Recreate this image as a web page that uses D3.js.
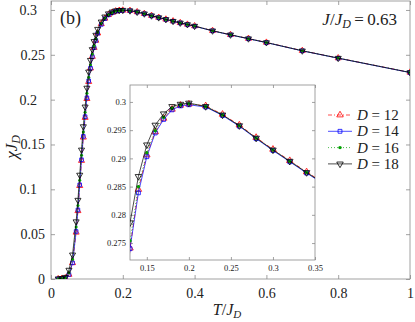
<!DOCTYPE html>
<html>
<head>
<meta charset="utf-8">
<script src="https://cdn.jsdelivr.net/npm/d3@7"></script>
<style>
  body { margin: 0; background: #fff; }
  svg { display: block; font-family: "Liberation Serif", "Times New Roman", serif; }
</style>
</head>
<body>
<svg id="chart" width="415" height="322"></svg>
<script>
// temperatures T/J_D
const temps = [0.02, 0.03, 0.04, 0.05, 0.06, 0.07, 0.075, 0.08, 0.085, 0.09, 0.095, 0.10, 0.105, 0.11, 0.115, 0.12, 0.125,
  0.13, 0.14, 0.15, 0.16, 0.17, 0.18, 0.19, 0.20, 0.22, 0.24, 0.26, 0.28, 0.30, 0.32, 0.34, 0.36, 0.38, 0.40,
  0.45, 0.50, 0.55, 0.60, 0.70, 0.80, 1.00];

// chi*J_D for each bond dimension D
const chiD12 = [0.0001, 0.0004, 0.001, 0.005, 0.018, 0.052, 0.076, 0.104, 0.132, 0.158, 0.180, 0.201, 0.220, 0.235, 0.248, 0.258, 0.266,
  0.2741, 0.2845, 0.2906, 0.2947, 0.2971, 0.2987, 0.2994, 0.2996, 0.2993, 0.2978, 0.2959, 0.2937, 0.2916, 0.2896, 0.2876, 0.2857, 0.2839, 0.2821,
  0.2769, 0.2724, 0.2681, 0.2638, 0.2546, 0.2464, 0.2304];
const chiD14 = [0.0001, 0.0004, 0.001, 0.005, 0.018, 0.053, 0.077, 0.105, 0.133, 0.159, 0.181, 0.202, 0.221, 0.235, 0.248, 0.258, 0.266,
  0.2740, 0.2839, 0.2903, 0.2945, 0.2969, 0.2986, 0.2993, 0.2995, 0.2991, 0.2976, 0.2957, 0.2935, 0.2914, 0.2894, 0.2874, 0.2855, 0.2837, 0.2819,
  0.2767, 0.2722, 0.2679, 0.2636, 0.2544, 0.2462, 0.2302];
const chiD16 = [0.0002, 0.0006, 0.0015, 0.007, 0.022, 0.058, 0.082, 0.110, 0.138, 0.164, 0.186, 0.207, 0.225, 0.239, 0.251, 0.2605, 0.268,
  0.2754, 0.2850, 0.2910, 0.2949, 0.2973, 0.2989, 0.2995, 0.2997, 0.2992, 0.2977, 0.2958, 0.2936, 0.2915, 0.2895, 0.2875, 0.2856, 0.2838, 0.2820,
  0.2768, 0.2723, 0.2680, 0.2637, 0.2545, 0.2463, 0.2303];
const chiD18 = [0.0003, 0.0008, 0.002, 0.010, 0.027, 0.064, 0.088, 0.116, 0.144, 0.170, 0.192, 0.213, 0.231, 0.244, 0.256, 0.265, 0.272,
  0.2786, 0.2868, 0.2924, 0.2959, 0.2979, 0.2992, 0.2996, 0.2998, 0.2992, 0.2977, 0.2958, 0.2936, 0.2915, 0.2895, 0.2875, 0.2856, 0.2838, 0.2820,
  0.2768, 0.2723, 0.2680, 0.2637, 0.2545, 0.2463, 0.2303];

const bondDims = [12, 14, 16, 18];
const mainXTicks = [0, 0.2, 0.4, 0.6, 0.8, 1];
const mainYTicks = [0, 0.05, 0.1, 0.15, 0.2, 0.25, 0.3];
const insetXTicks = [0.15, 0.2, 0.25, 0.3, 0.35];
const insetYTicks = [0.275, 0.28, 0.285, 0.29, 0.295, 0.3];

const allChi = [chiD12, chiD14, chiD16, chiD18];
const styles = [
  { color: '#ff0000', dash: '4,2,1,2', sym: 'triUp', fill: 'none' },
  { color: '#0000ff', dash: null, sym: 'square', fill: 'none' },
  { color: '#00a000', dash: '1,2', sym: 'dot', fill: '#00a000' },
  { color: '#000000', dash: null, sym: 'triDown', fill: 'none' }
];

const serif = '"Liberation Serif", "Times New Roman", serif';
const frameColor = '#8a8a8a';
const textColor = '#222';
const fmt = d => String(+d.toFixed(3));

const svg = d3.select('#chart');

const defs = svg.append('defs');
defs.append('clipPath').attr('id', 'clipMain')
  .append('rect').attr('x', 51).attr('y', 1).attr('width', 359).attr('height', 278);
defs.append('clipPath').attr('id', 'clipInset')
  .append('rect').attr('x', 130).attr('y', 85).attr('width', 185).attr('height', 175);

function marker(g, type, size) {
  if (type === 'triUp') return g.append('path').attr('d', d3.symbol().type(d3.symbolTriangle).size(size * 16)());
  if (type === 'triDown') return g.append('path').attr('d', d3.symbol().type(d3.symbolTriangle).size(size * 16)()).attr('transform', 'rotate(180)');
  if (type === 'square') return g.append('path').attr('d', d3.symbol().type(d3.symbolSquare).size(size * 13)());
  return g.append('circle').attr('r', size * 1.5);
}

function drawSeries(g, x, y, msize) {
  allChi.forEach((chi, i) => {
    const st = styles[i];
    const pts = temps.map((t, j) => [t, chi[j]]);
    const line = d3.line().x(d => x(d[0])).y(d => y(d[1]));
    g.append('path')
      .attr('d', line(pts))
      .attr('fill', 'none')
      .attr('stroke', st.color)
      .attr('stroke-width', 0.7)
      .attr('stroke-dasharray', st.dash);
    const mg = g.append('g');
    pts.forEach(p => {
      const m = mg.append('g').attr('transform', `translate(${x(p[0])},${y(p[1])})`);
      marker(m, st.sym, msize)
        .attr('fill', st.fill)
        .attr('stroke', st.color)
        .attr('stroke-width', st.sym === 'dot' ? 0 : 0.8);
    });
  });
}

function styleAxis(g, size) {
  g.attr('font-family', serif);
  g.select('.domain').remove();
  g.selectAll('.tick line').attr('stroke', frameColor).attr('stroke-width', 0.8);
  g.selectAll('.tick text').attr('fill', textColor).style('font-size', size + 'px');
}

// ---- main plot
const x = d3.scaleLinear().domain([0, 1]).range([51, 410]);
const y = d3.scaleLinear().domain([0, 0.31]).range([279, 1]);

svg.append('rect').attr('x', 51).attr('y', 1).attr('width', 359).attr('height', 278).attr('fill', '#fff');

const gx = svg.append('g').attr('transform', `translate(0,${y(0)})`)
  .call(d3.axisBottom(x).tickValues(mainXTicks).tickSizeInner(-4).tickSizeOuter(0).tickPadding(9).tickFormat(fmt));
styleAxis(gx, 14);
const gxTop = svg.append('g').attr('transform', 'translate(0,1)')
  .call(d3.axisTop(x).tickValues(mainXTicks).tickSizeInner(-4).tickSizeOuter(0).tickFormat(''));
styleAxis(gxTop, 14);

const gy = svg.append('g').attr('transform', `translate(${x(0)},0)`)
  .call(d3.axisLeft(y).tickValues(mainYTicks).tickSizeInner(-4).tickSizeOuter(0).tickPadding(6).tickFormat(fmt));
styleAxis(gy, 14);
gy.selectAll('.tick text').attr('dx', d => fmt(d).length === 3 ? -8 : 0);
const gyRight = svg.append('g').attr('transform', `translate(${x(1)},0)`)
  .call(d3.axisRight(y).tickValues(mainYTicks).tickSizeInner(-4).tickSizeOuter(0).tickFormat(''));
styleAxis(gyRight, 14);

svg.append('rect').attr('x', 51).attr('y', 1).attr('width', 359).attr('height', 278)
  .attr('fill', 'none').attr('stroke', frameColor).attr('stroke-width', 0.8);

drawSeries(svg.append('g').attr('clip-path', 'url(#clipMain)'), x, y, 1);

// labels
svg.append('text').attr('x', 60).attr('y', 24).attr('fill', textColor).style('font-size', '18px').text('(b)');

const jt = svg.append('text').attr('x', 397).attr('y', 25).attr('text-anchor', 'end')
  .attr('fill', textColor).style('font-size', '17px');
jt.append('tspan').attr('font-style', 'italic').text('J');
jt.append('tspan').text('/');
jt.append('tspan').attr('font-style', 'italic').text('J');
jt.append('tspan').attr('font-style', 'italic').attr('dy', 3).style('font-size', '12px').text('D');
jt.append('tspan').attr('dy', -3).text('\u2009=\u20090.63');

const xl = svg.append('text').attr('x', 227).attr('y', 315).attr('text-anchor', 'middle')
  .attr('fill', textColor).style('font-size', '16px');
xl.append('tspan').attr('font-style', 'italic').text('T');
xl.append('tspan').text('/');
xl.append('tspan').attr('font-style', 'italic').text('J');
xl.append('tspan').attr('font-style', 'italic').attr('dy', 3).style('font-size', '11px').text('D');

const yl = svg.append('text').attr('transform', 'translate(17,147) rotate(-90)').attr('text-anchor', 'middle')
  .attr('fill', textColor).style('font-size', '17px');
yl.append('tspan').attr('font-style', 'italic').text('χJ');
yl.append('tspan').attr('font-style', 'italic').attr('dy', 3).style('font-size', '12px').text('D');

// ---- inset
const ix = d3.scaleLinear().domain([0.13, 0.35]).range([130, 315]);
const iy = d3.scaleLinear().domain([0.272, 0.303]).range([260, 85]);

svg.append('rect').attr('x', 130).attr('y', 85).attr('width', 185).attr('height', 175).attr('fill', '#fff');

const ixAxis = svg.append('g').attr('transform', 'translate(0,260)')
  .call(d3.axisBottom(ix).tickValues(insetXTicks).tickSizeInner(-3).tickSizeOuter(0).tickPadding(5).tickFormat(fmt));
styleAxis(ixAxis, 8.5);
const ixTop = svg.append('g').attr('transform', 'translate(0,85)')
  .call(d3.axisTop(ix).tickValues(insetXTicks).tickSizeInner(-3).tickSizeOuter(0).tickFormat(''));
styleAxis(ixTop, 8.5);
const iyAxis = svg.append('g').attr('transform', 'translate(130,0)')
  .call(d3.axisLeft(iy).tickValues(insetYTicks).tickSizeInner(-3).tickSizeOuter(0).tickPadding(4).tickFormat(fmt));
styleAxis(iyAxis, 8.5);
const iyRight = svg.append('g').attr('transform', 'translate(315,0)')
  .call(d3.axisRight(iy).tickValues(insetYTicks).tickSizeInner(-3).tickSizeOuter(0).tickFormat(''));
styleAxis(iyRight, 8.5);

svg.append('rect').attr('x', 130).attr('y', 85).attr('width', 185).attr('height', 175)
  .attr('fill', 'none').attr('stroke', frameColor).attr('stroke-width', 0.8);

drawSeries(svg.append('g').attr('clip-path', 'url(#clipInset)'), ix, iy, 1.15);

// ---- legend
const legend = svg.append('g');
bondDims.forEach((dim, i) => {
  const st = styles[i];
  const ly = 115 + i * 16.3;
  legend.append('line').attr('x1', 328).attr('x2', 352).attr('y1', ly).attr('y2', ly)
    .attr('stroke', st.color).attr('stroke-width', 0.7).attr('stroke-dasharray', st.dash);
  const m = legend.append('g').attr('transform', `translate(340,${ly})`);
  marker(m, st.sym, 1.15).attr('fill', st.fill).attr('stroke', st.color).attr('stroke-width', st.sym === 'dot' ? 0 : 0.8);
  const t = legend.append('text').attr('x', 357).attr('y', ly + 5).attr('fill', textColor).style('font-size', '15px');
  t.append('tspan').attr('font-style', 'italic').text('D');
  t.append('tspan').text(' = ' + dim);
});
</script>
</body>
</html>
